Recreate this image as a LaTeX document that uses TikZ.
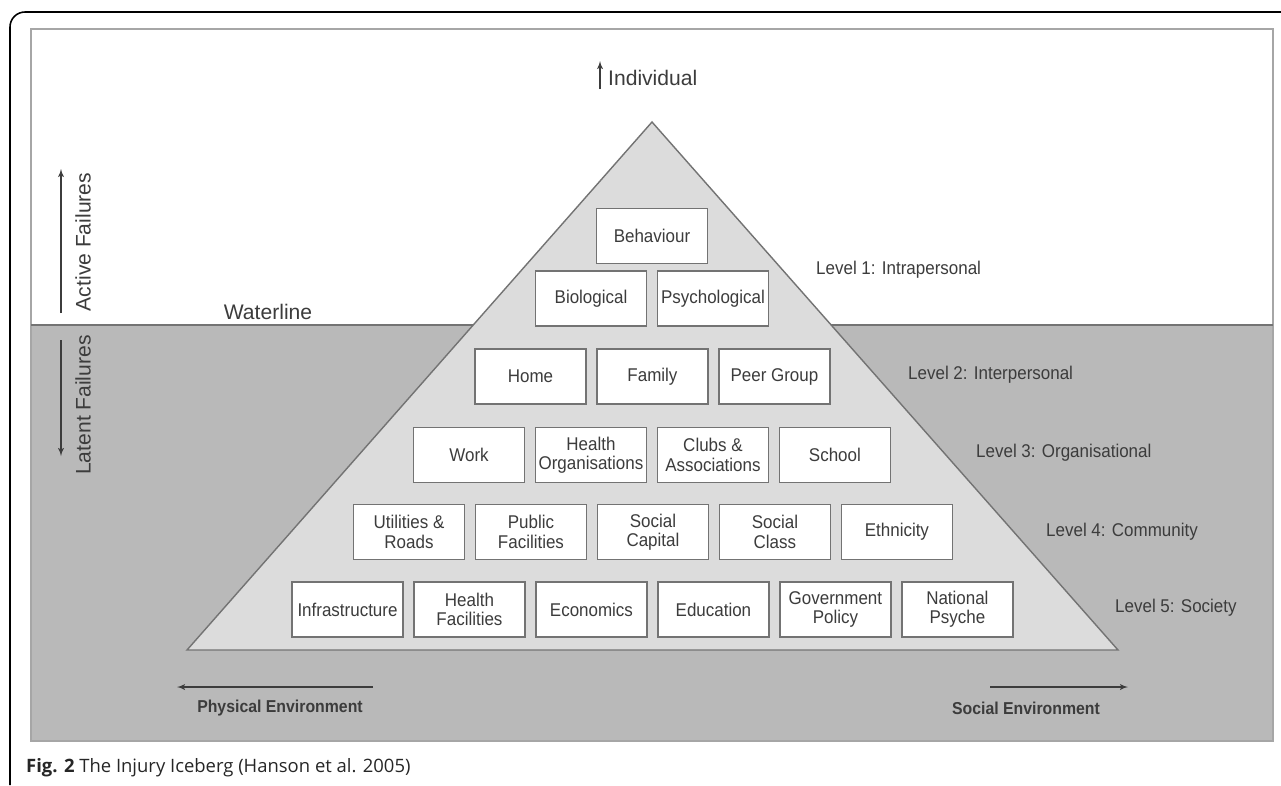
\documentclass[tikz,border=0pt]{standalone}
\usepackage{fontspec}
\setmainfont{Liberation Sans}
\newfontfamily\narrowfont{Liberation Sans}[FakeStretch=0.92]
\newfontfamily\capfont{Open Sans}
\usetikzlibrary{shapes,arrows,positioning}
\definecolor{seagray}{HTML}{B9B9B9}
\definecolor{icegray}{HTML}{DCDCDC}
\definecolor{edgegray}{HTML}{737373}
\definecolor{txtgray}{HTML}{3C3C3C}
\tikzstyle{brick} = [rectangle, draw=edgegray, fill=white, line width=0.8pt,
    minimum width=2.22cm, minimum height=1.1cm, inner sep=1pt, align=center,
    text=txtgray, font=\narrowfont\fontsize{10.5}{11}\selectfont]
\tikzstyle{lvltext} = [anchor=west, text=txtgray, font=\narrowfont\fontsize{10.5}{12}\selectfont]
\tikzstyle{plain} = [text=txtgray, font=\fontsize{12}{14}\selectfont]
\tikzstyle{envtext} = [text=txtgray, font=\narrowfont\bfseries\fontsize{9.8}{12}\selectfont]
\tikzstyle{line} = [draw, -latex', line width=0.6pt, txtgray]

\begin{document}
\begin{tikzpicture}[x=0.02cm, y=-0.02cm, node distance=2.44cm]
		\useasboundingbox (0,0) rectangle (1281,785);
		\draw[line width=0.9pt, rounded corners=0.3cm] (1281,12) -- (10,12) -- (10,785);
		\fill[white] (31,29) rectangle (1273,325);
		\fill[seagray] (31,325) rectangle (1273,741);
		\draw[gray!70, line width=0.8pt] (31,29) rectangle (1273,741);
		\draw[edgegray, line width=1.3pt] (31,325) -- (1273,325);
		\draw[fill=icegray, draw=edgegray, line width=0.8pt] (652,122) -- (1118,650) -- (187,650) -- cycle;
		
		\node [brick] (behaviour) at (652,236) {Behaviour};
		\node [brick] (bio) at (591,298.5) {Biological};
		\node [brick, right of=bio] (psych) {Psychological};
		
		\node [brick] (home) at (530.5,376.5) {Home};
		\node [brick, right of=home] (family) {Family};
		\node [brick, right of=family] (peer) {Peer Group};
		
		\node [brick] (work) at (469,455) {Work};
		\node [brick, right of=work] (hlthorg) {Health\\Organisations};
		\node [brick, right of=hlthorg] (clubs) {Clubs \&\\Associations};
		\node [brick, right of=clubs] (school) {School};
		
		\node [brick] (util) at (409,532) {Utilities \&\\Roads};
		\node [brick, right of=util] (pubfac) {Public\\Facilities};
		\node [brick, right of=pubfac] (soccap) {Social\\Capital};
		\node [brick, right of=soccap] (socclass) {Social\\Class};
		\node [brick, right of=socclass] (ethnic) {Ethnicity};
		
		\node [brick] (infra) at (347.5,609.5) {Infrastructure};
		\node [brick, right of=infra] (hlthfac) {Health\\Facilities};
		\node [brick, right of=hlthfac] (econ) {Economics};
		\node [brick, right of=econ] (edu) {Education};
		\node [brick, right of=edu] (govt) {Government\\Policy};
		\node [brick, right of=govt] (psyche) {National\\Psyche};
		
		\node [lvltext] (lvl1) at (810,270) {Level 1: Intrapersonal};
		\node [lvltext] (lvl2) at (902,375) {Level 2: Interpersonal};
		\node [lvltext] (lvl3) at (970,453) {Level 3: Organisational};
		\node [lvltext] (lvl4) at (1040,532) {Level 4: Community};
		\node [lvltext] (lvl5) at (1109,608) {Level 5: Society};
		
		\node [plain, anchor=west] (individual) at (602,78) {Individual};
		\node [plain] (waterline) at (268,312) {Waterline};
		\node [plain, rotate=90] (active) at (83,242) {Active Failures};
		\node [plain, rotate=90] (latent) at (83,405) {Latent Failures};
		\node [envtext] (phys) at (280,708) {Physical Environment};
		\node [envtext] (soc) at (1026,708) {Social Environment};
		\node [anchor=west, text=black!85, font=\capfont\fontsize{10.5}{12}\selectfont] (caption) at (20,768)
			{\textbf{Fig. 2} The Injury Iceberg (Hanson et al. 2005)};
		
		\coordinate (ind-a) at (600,89);
		\coordinate (ind-b) at (600,61);
		\coordinate (act-a) at (61,313);
		\coordinate (act-b) at (61,169);
		\coordinate (lat-a) at (61,340);
		\coordinate (lat-b) at (61,456);
		\coordinate (phys-a) at (373,687);
		\coordinate (phys-b) at (177,687);
		\coordinate (soc-a) at (990,687);
		\coordinate (soc-b) at (1128,687);
		
		\path [line] (ind-a) -- (ind-b);
		\path [line] (act-a) -- (act-b);
		\path [line] (lat-a) -- (lat-b);
		\path [line] (phys-a) -- (phys-b);
		\path [line] (soc-a) -- (soc-b);
	\end{tikzpicture}
\end{document}
